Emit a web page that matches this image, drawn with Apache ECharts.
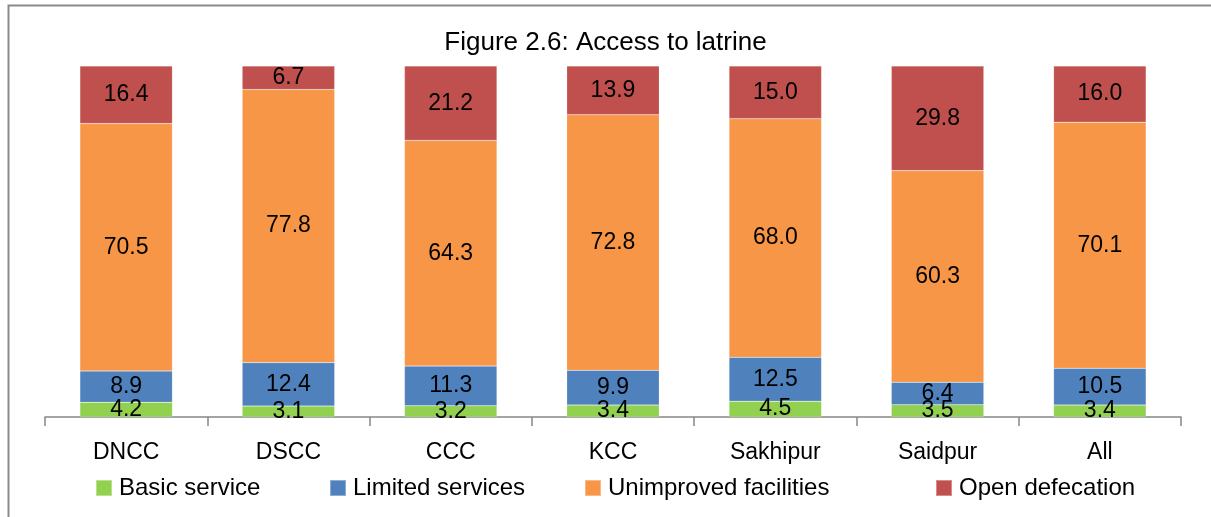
<!DOCTYPE html>
<html>
<head>
<meta charset="utf-8">
<style>
  html, body { margin: 0; padding: 0; background: #fff; }
  #chart { width: 1211px; height: 517px; }
</style>
<script src="https://cdn.jsdelivr.net/npm/echarts@6/dist/echarts.min.js"></script>
</head>
<body>
<div id="chart"></div>
<script>
// Access to latrine, per city corporation / municipality (% of households)
const categories = ['DNCC', 'DSCC', 'CCC', 'KCC', 'Sakhipur', 'Saidpur', 'All'];
const basicService = [4.2, 3.1, 3.2, 3.4, 4.5, 3.5, 3.4];
const limitedServices = [8.9, 12.4, 11.3, 9.9, 12.5, 6.4, 10.5];
const unimprovedFacilities = [70.5, 77.8, 64.3, 72.8, 68.0, 60.3, 70.1];
const openDefecation = [16.4, 6.7, 21.2, 13.9, 15.0, 29.8, 16.0];

const seriesNames = ['Basic service', 'Limited services', 'Unimproved facilities', 'Open defecation'];
const seriesValues = [basicService, limitedServices, unimprovedFacilities, openDefecation];
const colors = ['#92D050', '#4F81BD', '#F79646', '#C0504D'];

const FONT = '"Liberation Sans", Arial, sans-serif';

const chart = echarts.init(document.getElementById('chart'), null, { renderer: 'canvas' });

const legendLefts = [95, 329, 584, 935];

const option = {
  animation: false,
  backgroundColor: '#ffffff',
  title: {
    text: 'Figure 2.6: Access to latrine',
    left: 'center',
    top: 25,
    textStyle: { fontFamily: FONT, fontSize: 26, fontWeight: 'normal', color: '#000' }
  },
  graphic: [{
    type: 'rect',
    shape: { x: 8.5, y: 5.5, width: 1400, height: 700 },
    style: { fill: 'none', stroke: '#8a8a8a', lineWidth: 2 },
    silent: true
  }],
  legend: seriesNames.map((name, i) => ({
    data: [name],
    left: legendLefts[i],
    top: 476,
    padding: 0,
    itemWidth: 16,
    itemHeight: 16,
    itemGap: 0,
    icon: 'rect',
    selectedMode: false,
    textStyle: { fontFamily: FONT, fontSize: 24, color: '#000', padding: [0, 0, 0, 2] }
  })),
  grid: { left: 45, right: 30, top: 66, bottom: 100, containLabel: false },
  xAxis: {
    type: 'category',
    data: categories,
    axisLine: { lineStyle: { color: '#868686', width: 1.5 } },
    axisTick: { show: true, interval: 0, inside: false, length: 9, lineStyle: { color: '#868686', width: 1.5 } },
    axisLabel: { fontFamily: FONT, fontSize: 23, color: '#000', margin: 24 }
  },
  yAxis: {
    type: 'value',
    min: 0,
    max: 100,
    show: false,
    splitLine: { show: false }
  },
  series: seriesNames.map((name, i) => ({
    name: name,
    type: 'bar',
    stack: 'total',
    barWidth: '57%',
    data: seriesValues[i],
    itemStyle: { color: colors[i], borderColor: 'rgba(255,255,255,0.35)', borderWidth: 0.5 },
    label: {
      show: true,
      position: 'inside',
      fontFamily: FONT,
      fontSize: 23,
      color: '#000',
      formatter: p => p.value.toFixed(1)
    }
  }))
};

chart.setOption(option);
</script>
</body>
</html>
